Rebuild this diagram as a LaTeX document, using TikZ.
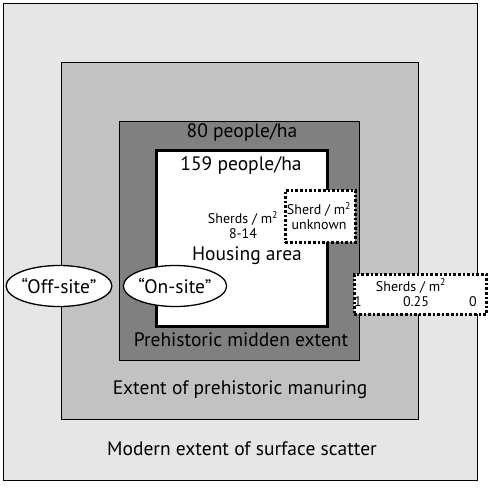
\documentclass[tikz,border=0pt]{standalone}
\usepackage{fontspec}
\setmainfont{PT Sans}
\usetikzlibrary{shapes.geometric}
\definecolor{outerfill}{HTML}{E6E6E6}
\definecolor{manfill}{HTML}{C2C2C2}
\definecolor{midfill}{HTML}{808080}
\tikzset{
  zone/.style={draw=black, line width=1.3pt, inner sep=0pt, anchor=north west},
  bigtxt/.style={font=\fontsize{19.5}{21}\selectfont, inner sep=0pt},
  smalltxt/.style={font=\fontsize{14}{15}\selectfont, inner sep=0pt, align=center},
  dotbox/.style={draw=black, fill=white, line width=2.8pt, dash pattern=on 2.6pt off 2pt, inner sep=0pt, anchor=north west},
  oval/.style={ellipse, draw=black, fill=white, line width=1.3pt, minimum width=103pt, minimum height=41pt, inner sep=0pt, font=\fontsize{19.5}{21}\selectfont}
}
\begin{document}
\begin{tikzpicture}[x=1pt,y=-1pt]
\useasboundingbox (0,0) rectangle (495,488);
\fill[white] (0,0) rectangle (495,488);
\node[zone, fill=outerfill, minimum width=474pt, minimum height=477pt] (outer) at (3,3) {};
\node[zone, fill=manfill, minimum width=357pt, minimum height=357pt] (manuring) at (61,62) {};
\node[zone, fill=midfill, minimum width=240pt, minimum height=239pt] (midden) at (119,121) {};
\node[zone, fill=white, line width=3pt, minimum width=171pt, minimum height=176pt] (housing) at (155,149) {};
\node[dotbox, minimum width=70pt, minimum height=52pt] (unknownbox) at (284,189) {};
\node[dotbox, minimum width=132pt, minimum height=40pt] (gradbox) at (353,273) {};
\node[oval] (offsite) at (59,286) {“Off-site”};
\node[oval] (onsite) at (175,286) {“On-site”};
\node[bigtxt] (t80) at (242,133) {80 people/ha};
\node[bigtxt] (t159) at (241,166) {159 people/ha};
\node[smalltxt] (sherds) at (243,225) {Sherds / m\textsuperscript{2}\\8-14};
\node[smalltxt] (unk) at (319,216) {Sherd / m\textsuperscript{2}\\unknown};
\node[bigtxt] (housingt) at (247,256) {Housing area};
\node[bigtxt] (middent) at (241,340) {Prehistoric midden extent};
\node[bigtxt] (manuringt) at (240,390) {Extent of prehistoric manuring};
\node[bigtxt] (modern) at (242,449) {Modern extent of surface scatter};
\node[smalltxt] (gradt) at (411,286) {Sherds / m\textsuperscript{2}};
\node[smalltxt] (g1) at (358,302) {1};
\node[smalltxt] (g025) at (416,302) {0.25};
\node[smalltxt] (g0) at (473,302) {0};
\end{tikzpicture}
\end{document}
